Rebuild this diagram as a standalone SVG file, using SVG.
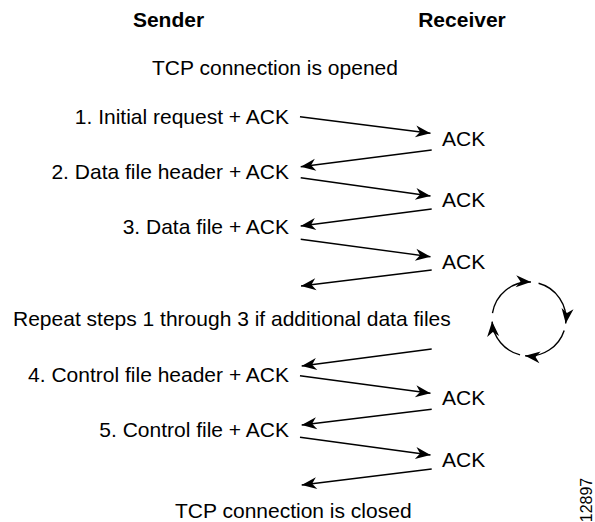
<svg xmlns="http://www.w3.org/2000/svg" width="595" height="522" viewBox="0 0 595 522">
  <style>
    text { font-family: "Liberation Sans", Arial, Helvetica, sans-serif; font-size: 21px; fill: #000; }
    .head { font-weight: bold; text-anchor: middle; }
    .step { text-anchor: end; }
    .note { font-size: 16px; }
    .msg { fill: none; stroke: #000; stroke-width: 1.4; marker-end: url(#arrow); }
    .cyc { fill: none; stroke: #000; stroke-width: 1.4; marker-end: url(#arrow); }
  </style>
  <defs>
    <marker id="arrow" markerUnits="userSpaceOnUse" viewBox="-16 -7 17 14" refX="0" refY="0" markerWidth="17" markerHeight="14" orient="auto">
      <path d="M0,0 L-15,-6 L-10.5,0 L-15,6 Z" fill="#000"/>
    </marker>
  </defs>

  <rect width="595" height="522" fill="#fff"/>

  <!-- column headings -->
  <g id="sender"><text class="head" x="168.5" y="27">Sender</text></g>
  <g id="receiver"><text class="head" x="462" y="27">Receiver</text></g>

  <g id="opened"><text x="152" y="75">TCP connection is opened</text></g>

  <!-- sender-side steps -->
  <g id="step1"><text class="step" x="289" y="124">1. Initial request + ACK</text></g>
  <g id="step2"><text class="step" x="289" y="179">2. Data file header + ACK</text></g>
  <g id="step3"><text class="step" x="289" y="234">3. Data file + ACK</text></g>
  <g id="repeat"><text x="13" y="326">Repeat steps 1 through 3 if additional data files</text></g>
  <g id="step4"><text class="step" x="289" y="381.5">4. Control file header + ACK</text></g>
  <g id="step5"><text class="step" x="289" y="437">5. Control file + ACK</text></g>

  <!-- receiver-side acknowledgements -->
  <g id="ack1"><text x="442" y="146">ACK</text></g>
  <g id="ack2"><text x="442" y="207">ACK</text></g>
  <g id="ack3"><text x="442" y="269">ACK</text></g>
  <g id="ack4"><text x="442" y="405">ACK</text></g>
  <g id="ack5"><text x="442" y="467">ACK</text></g>

  <g id="closed"><text x="175" y="518">TCP connection is closed</text></g>

  <!-- repeat cycle symbol -->
  <g id="cycle">
    <path class="cyc" d="M492.46,313.21 A37,37 0 0 1 530.94,282.05"/>
    <path class="cyc" d="M538.58,283.26 A37,37 0 0 1 565.72,323.51"/>
    <path class="cyc" d="M564.19,330.43 A37,37 0 0 1 525.13,355.80"/>
    <path class="cyc" d="M520.05,354.90 A37,37 0 0 1 492.09,321.58"/>
  </g>

  <g id="figure-id"><text class="note" transform="translate(591.5,500) rotate(-90)" text-anchor="middle">12897</text></g>

  <!-- message arrows -->
  <g id="connectors">
    <path class="msg" d="M300,116.7 L430.5,133.3"/>
    <path class="msg" d="M431.7,150 L300.7,166.7"/>
    <path class="msg" d="M300.7,177.7 L430.5,196"/>
    <path class="msg" d="M431.7,209 L300.7,226"/>
    <path class="msg" d="M300.7,239.3 L430.5,256.7"/>
    <path class="msg" d="M431.7,270 L301,286"/>
    <path class="msg" d="M431.7,349 L301.7,366"/>
    <path class="msg" d="M300,375.7 L430.5,393.3"/>
    <path class="msg" d="M431.7,409.3 L301.7,425"/>
    <path class="msg" d="M300,437.3 L430.5,455"/>
    <path class="msg" d="M431.7,469 L301.7,485"/>
  </g>
</svg>
